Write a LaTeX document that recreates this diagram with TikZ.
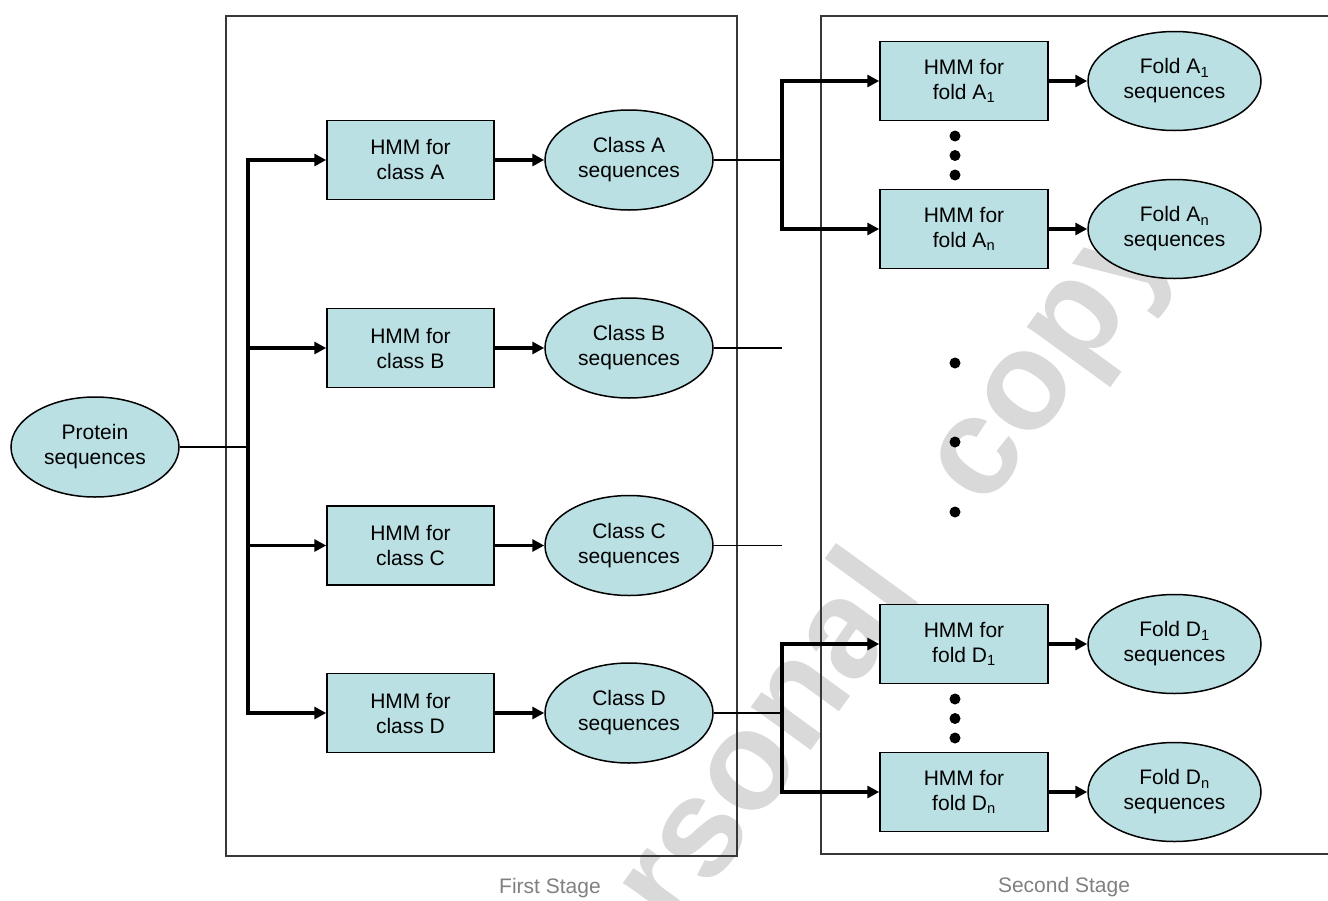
\documentclass[tikz,border=0pt]{standalone}
\usepackage{fontspec}
\setmainfont{Liberation Sans}
\usetikzlibrary{shapes.geometric,arrows.meta}
\definecolor{fillblue}{RGB}{187,224,227}
\definecolor{framegray}{RGB}{55,55,55}
\definecolor{labelgray}{RGB}{128,128,128}
\definecolor{wmgray}{RGB}{217,217,217}
\begin{document}
\begin{tikzpicture}[x=1pt,y=-1pt,
  lbl/.style={align=center,font=\fontsize{21}{25}\selectfont},
  hmmbox/.style={lbl,draw=black,line width=1.5pt,fill=fillblue,minimum width=167pt,minimum height=79pt,inner sep=0pt},
  seqell/.style={lbl,ellipse,draw=black,line width=1.5pt,fill=fillblue,minimum width=168pt,minimum height=100pt,inner sep=0pt},
  foldell/.style={seqell,minimum width=173pt,minimum height=99pt},
  thinline/.style={line width=1.4pt,black},
  thickline/.style={line width=3.3pt,black,line cap=rect},
  arr/.style={line width=3.3pt,black,-{Triangle[length=12pt,width=12pt]}},
  framebox/.style={line width=1.4pt,framegray},
  stagelbl/.style={text=labelgray,font=\fontsize{21}{25}\selectfont},
  dotmark/.style={fill=black}
]
\useasboundingbox (0,0) rectangle (1328,900);
\clip (0,0) rectangle (1328,900);

% watermark
\node[rotate=54,text=wmgray,inner sep=0pt,font=\fontsize{140}{140}\selectfont\bfseries] (wm) at (850,635) {personal\hspace{0.745em}copy};

% frames
\draw[framebox] (226,16) rectangle (737,856);
\draw[framebox] (1340,16) -- (821,16) -- (821,854) -- (1340,854);

% first stage nodes
\node[seqell] (prot) at (95,447) {Protein\\sequences};
\node[hmmbox] (hA) at (410.5,160) {HMM for\\class A};
\node[hmmbox] (hB) at (410.5,348) {HMM for\\class B};
\node[hmmbox] (hC) at (410.5,545.5) {HMM for\\class C};
\node[hmmbox] (hD) at (410.5,713) {HMM for\\class D};
\node[seqell] (cA) at (629,160) {Class A\\sequences};
\node[seqell] (cB) at (629,348) {Class B\\sequences};
\node[seqell] (cC) at (629,545.5) {Class C\\sequences};
\node[seqell] (cD) at (629,713) {Class D\\sequences};

% second stage nodes
\node[hmmbox,minimum width=168pt] (fA1) at (964,81) {HMM for\\fold A\textsubscript{1}};
\node[hmmbox,minimum width=168pt] (fAn) at (964,229) {HMM for\\fold A\textsubscript{n}};
\node[hmmbox,minimum width=168pt] (fD1) at (964,644) {HMM for\\fold D\textsubscript{1}};
\node[hmmbox,minimum width=168pt] (fDn) at (964,792) {HMM for\\fold D\textsubscript{n}};
\node[foldell] (sA1) at (1174.5,81) {Fold A\textsubscript{1}\\sequences};
\node[foldell] (sAn) at (1174.5,229) {Fold A\textsubscript{n}\\sequences};
\node[foldell] (sD1) at (1174.5,644) {Fold D\textsubscript{1}\\sequences};
\node[foldell] (sDn) at (1174.5,792) {Fold D\textsubscript{n}\\sequences};

% coordinates
\coordinate (tP) at (248,447);
\coordinate (tA) at (248,160);
\coordinate (tB) at (248,348);
\coordinate (tC) at (248,545.5);
\coordinate (tD) at (248,713);
\coordinate (jA) at (782,160);
\coordinate (jA1) at (782,81);
\coordinate (jAn) at (782,229);
\coordinate (eB) at (782,348);
\coordinate (eC) at (782,545.5);
\coordinate (jD) at (782,713);
\coordinate (jD1) at (782,644);
\coordinate (jDn) at (782,792);

% first stage connectors
\draw[thinline] (prot.east) -- (tP);
\draw[thickline] (tA) -- (tD);
\draw[arr] (tA) -- (hA.west);
\draw[arr] (tB) -- (hB.west);
\draw[arr] (tC) -- (hC.west);
\draw[arr] (tD) -- (hD.west);
\draw[arr] (hA.east) -- (cA.west);
\draw[arr] (hB.east) -- (cB.west);
\draw[arr] (hC.east) -- (cC.west);
\draw[arr] (hD.east) -- (cD.west);

% links to second stage
\draw[thinline] (cA.east) -- (jA);
\draw[thinline] (cB.east) -- (eB);
\draw[thinline] (cC.east) -- (eC);
\draw[thinline] (cD.east) -- (jD);
\draw[thickline] (jA1) -- (jAn);
\draw[thickline] (jD1) -- (jDn);
\draw[arr] (jA1) -- (fA1.west);
\draw[arr] (jAn) -- (fAn.west);
\draw[arr] (jD1) -- (fD1.west);
\draw[arr] (jDn) -- (fDn.west);
\draw[arr] (fA1.east) -- (sA1.west);
\draw[arr] (fAn.east) -- (sAn.west);
\draw[arr] (fD1.east) -- (sD1.west);
\draw[arr] (fDn.east) -- (sDn.west);

% dots
\foreach \yy in {136,155.5,175,363,442,512,699,718.5,738}
  \fill[dotmark] (955,\yy) circle (5.5pt);

% stage labels
\node[stagelbl] (st1) at (550,888) {First Stage};
\node[stagelbl] (st2) at (1064,887) {Second Stage};
\end{tikzpicture}
\end{document}
